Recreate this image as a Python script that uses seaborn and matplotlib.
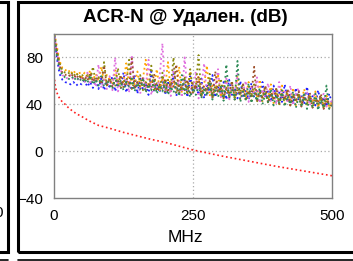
import matplotlib
matplotlib.use("Agg")
import matplotlib.pyplot as plt
import matplotlib.patches as mpatches
import numpy as np
import pandas as pd
import seaborn as sns

# frequency grid (MHz): 1, then every 5 MHz up to 500
freq_mhz = [1] + list(range(5, 501, 5))

acrn_blue = [98,
    80, 66, 61, 59, 58, 57, 59, 56, 58, 57,
    60, 55, 59, 54, 61, 53, 62, 52, 58, 55,
    64, 51, 60, 53, 67, 50, 59, 52, 65, 49,
    62, 53, 58, 48, 68, 51, 57, 50, 63, 48,
    60, 52, 66, 47, 58, 51, 61, 46, 64, 50,
    57, 48, 62, 45, 56, 51, 65, 46, 55, 49,
    59, 44, 61, 48, 54, 45, 60, 47, 53, 44,
    58, 46, 52, 43, 59, 45, 51, 42, 56, 45,
    50, 42, 57, 44, 49, 41, 54, 43, 48, 40,
    55, 42, 47, 39, 52, 41, 46, 38, 49, 41]
acrn_orange = [100,
    90, 77, 71, 69, 70, 66, 69, 65, 68, 63,
    67, 62, 69, 61, 66, 60, 72, 59, 65, 61,
    58, 69, 57, 64, 59, 75, 56, 63, 57, 68,
    55, 62, 78, 54, 61, 56, 70, 52, 63, 55,
    76, 51, 60, 53, 72, 50, 62, 52, 68, 49,
    58, 64, 48, 57, 73, 47, 56, 50, 66, 46,
    55, 61, 45, 54, 48, 64, 44, 53, 47, 59,
    43, 52, 46, 61, 42, 51, 45, 57, 41, 50,
    44, 56, 40, 49, 43, 54, 39, 48, 42, 53,
    38, 47, 41, 51, 37, 46, 40, 49, 36, 43]
acrn_violet = [97,
    85, 72, 65, 63, 62, 65, 61, 64, 60, 63,
    58, 67, 57, 62, 55, 74, 54, 61, 53, 64,
    52, 80, 51, 60, 55, 65, 50, 82, 53, 59,
    49, 64, 54, 78, 48, 58, 52, 63, 92, 50,
    57, 47, 71, 52, 61, 46, 80, 51, 56, 48,
    68, 45, 55, 75, 47, 58, 44, 54, 70, 46,
    53, 62, 43, 57, 50, 66, 44, 51, 60, 42,
    56, 48, 63, 41, 53, 46, 58, 43, 52, 40,
    59, 45, 51, 41, 56, 39, 49, 54, 38, 47,
    51, 39, 46, 50, 37, 45, 49, 38, 44, 42]
acrn_olive = [99,
    87, 75, 69, 67, 66, 68, 64, 67, 63, 66,
    61, 65, 60, 72, 59, 63, 57, 76, 56, 62,
    59, 55, 71, 54, 61, 57, 78, 53, 60, 55,
    65, 52, 59, 54, 73, 51, 58, 53, 67, 50,
    61, 55, 80, 49, 56, 51, 64, 48, 70, 50,
    55, 82, 47, 54, 49, 66, 46, 56, 51, 62,
    45, 54, 48, 60, 44, 55, 50, 58, 43, 51,
    47, 57, 42, 50, 45, 55, 41, 49, 44, 53,
    40, 48, 43, 52, 39, 47, 42, 50, 38, 46,
    41, 48, 37, 45, 40, 47, 36, 44, 39, 39]
acrn_brown = [96,
    84, 73, 67, 65, 66, 63, 66, 62, 65, 61,
    64, 60, 67, 59, 63, 61, 57, 73, 56, 62,
    55, 61, 58, 65, 54, 60, 57, 79, 53, 59,
    55, 63, 52, 58, 54, 66, 51, 57, 53, 62,
    50, 59, 55, 74, 49, 57, 52, 61, 48, 58,
    53, 63, 47, 56, 51, 60, 46, 68, 50, 55,
    45, 54, 49, 59, 44, 53, 48, 57, 43, 52,
    47, 72, 42, 51, 46, 56, 41, 50, 45, 54,
    40, 49, 44, 53, 39, 48, 43, 51, 38, 47,
    42, 50, 37, 46, 41, 49, 36, 45, 40, 39]
acrn_green = [95,
    82, 70, 65, 63, 62, 61, 64, 60, 63, 59,
    62, 58, 65, 57, 61, 56, 64, 55, 60, 57,
    53, 63, 56, 60, 52, 59, 55, 62, 51, 58,
    53, 61, 50, 57, 52, 60, 49, 56, 51, 59,
    48, 55, 50, 58, 47, 65, 49, 56, 46, 54,
    48, 56, 45, 53, 47, 59, 44, 52, 46, 55,
    43, 74, 45, 53, 44, 77, 42, 51, 44, 58,
    41, 50, 43, 54, 40, 49, 42, 53, 39, 48,
    41, 52, 38, 47, 40, 51, 37, 46, 39, 50,
    36, 45, 38, 49, 35, 44, 37, 56, 36, 39]

series_names = ["1,2-3,6", "1,2-4,5", "1,2-7,8", "3,6-4,5", "3,6-7,8", "4,5-7,8"]
series_values = [acrn_blue, acrn_orange, acrn_violet, acrn_olive, acrn_brown, acrn_green]
series_colors = ["#2020ff", "#ffa500", "#e070e0", "#8a8a10", "#a0522d", "#2e8b57"]

# limit line (dB)
limit_freq = [1, 2, 4, 6, 10, 15, 20, 25, 31.25, 40, 50, 62.5, 80, 100, 125,
              150, 175, 200, 250, 300, 350, 400, 450, 500]
limit_db = [61, 57, 52, 49, 45, 42, 40, 37.5, 35, 32, 29.5, 26, 22, 19.5, 16,
            13, 10, 7.5, 1, -4, -8.5, -13, -17, -21]

title = "ACR-N @ Удален. (dB)"
x_ticks = [0, 250, 500]
y_ticks = [-40, 0, 40, 80]

rows = []
for name, vals in zip(series_names, series_values):
    for f, v in zip(freq_mhz, vals):
        rows.append({"pair": name, "MHz": f, "dB": v})
df = pd.DataFrame(rows)
limit_df = pd.DataFrame({"MHz": limit_freq, "dB": limit_db})

sns.set_theme(style="white")
plt.rcParams["font.family"] = ["Liberation Sans", "DejaVu Sans"]

W, H = 353, 261
fig = plt.figure(figsize=(W / 100, H / 100), dpi=100)
fig.patch.set_facecolor("white")

def fx(px):
    return px / W

def fy(py):
    return 1 - py / H

ax = fig.add_axes([fx(54), fy(198), fx(332) - fx(54), fy(34) - fy(198)])

sns.lineplot(data=df, x="MHz", y="dB", hue="pair", palette=series_colors,
             linestyle=":", linewidth=1.3, legend=False, ax=ax)
sns.lineplot(data=limit_df, x="MHz", y="dB", color="#ff2020",
             linestyle=":", linewidth=1.2, ax=ax)

ax.set_xlim(0, 500)
ax.set_ylim(-40, 100)
ax.set_xticks(x_ticks)
ax.set_yticks(y_ticks)
ax.tick_params(length=0, labelsize=11, pad=8, colors="black")
ax.set_xlabel("")
ax.set_ylabel("")
for y in [0, 40, 80]:
    ax.axhline(y, color="#aaaaaa", linestyle=(0, (1, 2)), linewidth=0.9, zorder=0)
ax.axvline(250, color="#aaaaaa", linestyle=(0, (1, 2)), linewidth=0.9, zorder=0)
for s in ax.spines.values():
    s.set_color("#808080")
    s.set_linewidth(1.0)

fig.text(fx(185), fy(17), title, ha="center", va="center",
         fontsize=13.6, fontweight="bold", color="black")
fig.text(fx(185.5), fy(238), "MHz", ha="center", va="center", fontsize=12.5,
         color="black")

# panel frames of the surrounding grid
fig.add_artist(mpatches.Rectangle((fx(18), fy(252)), fx(400) - fx(18), fy(1.5) - fy(252),
                                  fill=False, edgecolor="black", linewidth=2.2,
                                  transform=fig.transFigure))
fig.add_artist(mpatches.Rectangle((fx(-50), fy(252)), fx(8) - fx(-50), fy(1.5) - fy(252),
                                  fill=False, edgecolor="black", linewidth=2.2,
                                  transform=fig.transFigure))
fig.add_artist(plt.Line2D([fx(0), fx(8)], [fy(259.5), fy(259.5)], color="black",
                          linewidth=1.2, transform=fig.transFigure))
fig.add_artist(plt.Line2D([fx(18), fx(353)], [fy(259.5), fy(259.5)], color="black",
                          linewidth=1.2, transform=fig.transFigure))
fig.text(fx(3.5), fy(213), "500", ha="right", va="center", fontsize=11, color="black")

fig.savefig("out.png", dpi=100)
